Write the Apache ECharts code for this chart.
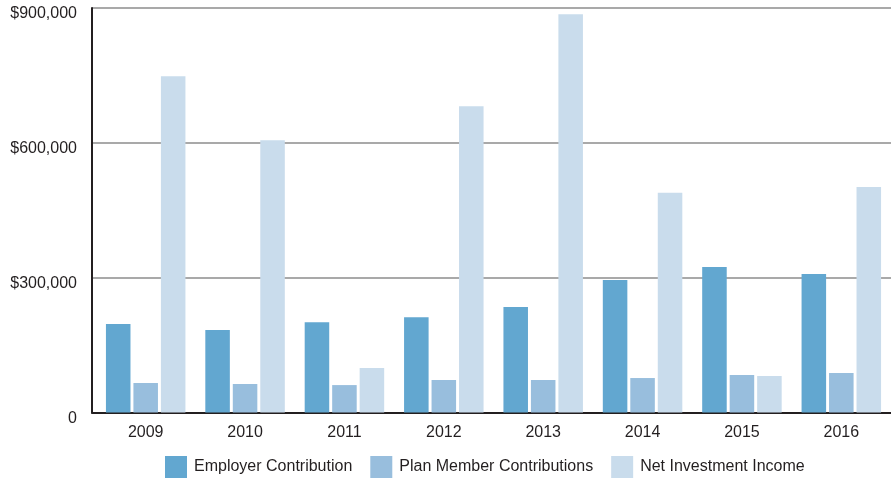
<!DOCTYPE html>
<html>
<head>
<meta charset="utf-8">
<script src="https://cdn.jsdelivr.net/npm/echarts@6/dist/echarts.min.js"></script>
<style>html,body{margin:0;padding:0;background:#fff}#c{width:891px;height:479px}</style>
</head>
<body>
<div id="c"></div>
<script>
const categories = ['2009','2010','2011','2012','2013','2014','2015','2016'];
const employer = [197000, 183500, 201000, 212000, 234600, 294700, 323600, 308000];
const planMember = [65600, 63400, 61000, 72300, 72300, 76700, 83400, 87800];
const netInvestment = [748300, 606000, 99000, 681600, 886200, 488800, 81200, 501500];
const yTicks = [0, 300000, 600000, 900000];

const font = "'Liberation Sans', Arial, Helvetica, sans-serif";
const txt = '#231f20';
const chart = echarts.init(document.getElementById('c'), null, {renderer: 'canvas'});
chart.setOption({
  animation: false,
  textStyle: {fontFamily: font},
  grid: [
    {left: 92, right: 0, top: 8, bottom: 66.5, containLabel: false},
    {left: 96, right: -4, top: 8, bottom: 66.5, containLabel: false}
  ],
  legend: {
    left: 160, top: 451,
    itemWidth: 22, itemHeight: 22, itemGap: 18,
    icon: 'rect',
    textStyle: {fontSize: 16, color: txt, fontFamily: font, padding: [0, 0, 0, 2]},
    data: ['Employer Contribution', 'Plan Member Contributions', 'Net Investment Income']
  },
  xAxis: [
    {type: 'category', gridIndex: 0, data: categories,
     axisLine: {lineStyle: {color: txt, width: 2}}, axisTick: {show: false}, axisLabel: {show: false}},
    {type: 'category', gridIndex: 1, data: categories,
     axisLine: {show: false}, axisTick: {show: false},
     axisLabel: {fontSize: 16, color: txt, margin: 12, fontFamily: font}}
  ],
  yAxis: [
    {type: 'value', gridIndex: 0, min: yTicks[0], max: yTicks[yTicks.length - 1], interval: 300000,
     axisLine: {show: true, lineStyle: {color: txt, width: 2}}, axisTick: {show: false},
     splitLine: {lineStyle: {color: '#8c8c8c', width: 1.5}},
     axisLabel: {fontSize: 16, color: txt, margin: 15, fontFamily: font,
       verticalAlign: 'top', lineHeight: 12,
       formatter: v => v === 0 ? '0' : '$' + v.toLocaleString('en-US')}},
    {type: 'value', gridIndex: 1, min: yTicks[0], max: yTicks[yTicks.length - 1], interval: 300000,
     show: false, splitLine: {show: false}}
  ],
  series: [
    {name: 'Employer Contribution', type: 'bar', xAxisIndex: 1, yAxisIndex: 1, data: employer,
     itemStyle: {color: '#62a7d0'}, barGap: '12%', barCategoryGap: '20%'},
    {name: 'Plan Member Contributions', type: 'bar', xAxisIndex: 1, yAxisIndex: 1, data: planMember,
     itemStyle: {color: '#98bedd'}},
    {name: 'Net Investment Income', type: 'bar', xAxisIndex: 1, yAxisIndex: 1, data: netInvestment,
     itemStyle: {color: '#c9dcec'}}
  ]
});
</script>
</body>
</html>
